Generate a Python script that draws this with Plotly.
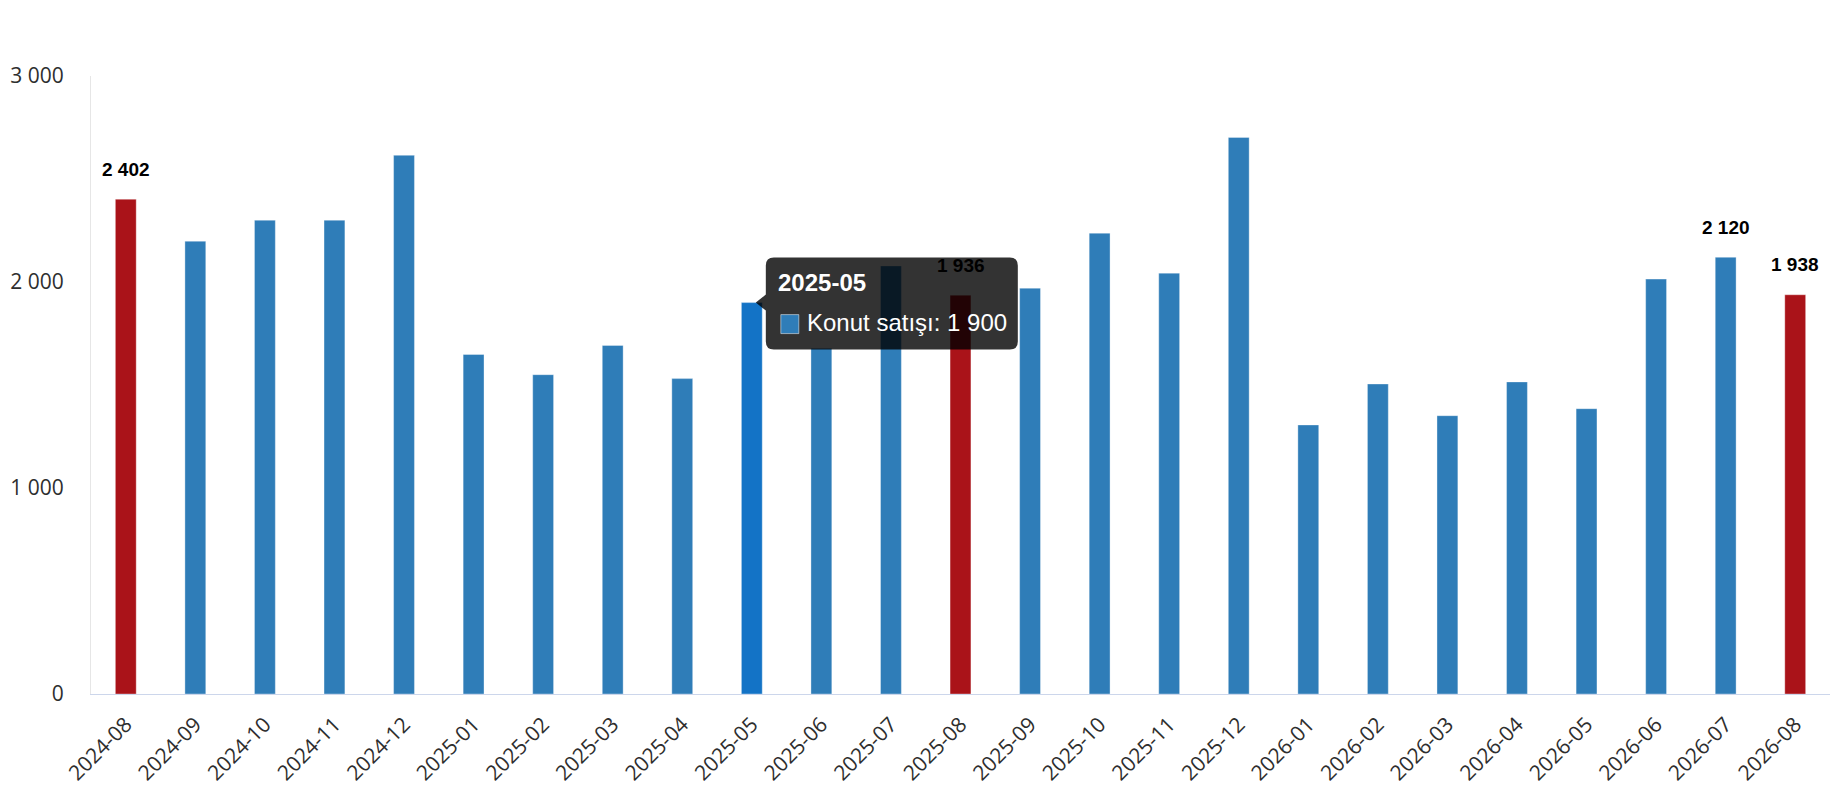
import plotly.graph_objects as go

months = ["2024-08", "2024-09", "2024-10", "2024-11", "2024-12",
          "2025-01", "2025-02", "2025-03", "2025-04", "2025-05", "2025-06", "2025-07", "2025-08",
          "2025-09", "2025-10", "2025-11", "2025-12",
          "2026-01", "2026-02", "2026-03", "2026-04", "2026-05", "2026-06", "2026-07", "2026-08"]
sales = [2402, 2198, 2300, 2300, 2615,
         1648, 1550, 1692, 1531, 1900, 1678, 2078, 1936,
         1970, 2237, 2043, 2702,
         1306, 1505, 1351, 1515, 1385, 2014, 2120, 1938]
red_months = ["2024-08", "2025-08", "2026-08"]
labelled_months = ["2024-08", "2025-08", "2026-07", "2026-08"]
hover_month = "2025-05"
series_name = "Konut satışı"
y_ticks = [0, 1000, 2000, 3000]

BLUE = "#2f7db8"
RED = "#aa1319"
HOVER = "#1373c6"


def fmt(v):
    return f"{v:,}".replace(",", " ")


colors = []
for m in months:
    if m in red_months:
        colors.append(RED)
    elif m == hover_month:
        colors.append(HOVER)
    else:
        colors.append(BLUE)

fig = go.Figure(go.Bar(
    x=months, y=sales, name=series_name,
    marker=dict(color=colors, line=dict(color="rgba(255,255,255,0.35)", width=1)),
    hoverinfo="skip",
))

annotations = []
for m, v in zip(months, sales):
    if m in labelled_months:
        annotations.append(dict(
            x=m, y=v, xref="x", yref="y", text=f"<b>{fmt(v)}</b>", showarrow=False,
            yshift=30, yanchor="middle", xanchor="center",
            font=dict(family="Liberation Sans, Arial", size=19, color="#000000"),
        ))

# tooltip anchored at hovered bar
hi = months.index(hover_month)
hv = sales[hi]
L, R, T, B, r = 14, 266, 45, -47, 8
path = (f"M {L + r},{T} L {R - r},{T} Q {R},{T} {R},{T - r} L {R},{B + r} "
        f"Q {R},{B} {R - r},{B} L {L + r},{B} Q {L},{B} {L},{B + r} "
        f"L {L},-8 L 4,0 L {L},8 L {L},{T - r} Q {L},{T} {L + r},{T} Z")
shapes = [
    dict(type="path", xref="x", yref="y", xsizemode="pixel", ysizemode="pixel",
         xanchor=hi, yanchor=hv, path=path, fillcolor="rgba(0,0,0,0.8)",
         line=dict(width=0), layer="above"),
    dict(type="rect", xref="x", yref="y", xsizemode="pixel", ysizemode="pixel",
         xanchor=hi, yanchor=hv, x0=29, x1=47, y0=-12, y1=-31,
         fillcolor=BLUE, line=dict(color="rgba(255,255,255,0.5)", width=1), layer="above"),
]
annotations.append(dict(
    x=hi, y=hv, xref="x", yref="y", text=f"<b>{hover_month}</b>", showarrow=False,
    xshift=24, yshift=20, xanchor="left", yanchor="middle",
    font=dict(family="Liberation Sans, Arial", size=24, color="#ffffff"),
))
annotations.append(dict(
    x=hi, y=hv, xref="x", yref="y", text=f"{series_name}: {fmt(hv)}", showarrow=False,
    xshift=53, yshift=-20, xanchor="left", yanchor="middle",
    font=dict(family="Liberation Sans, Arial", size=24, color="#ffffff"),
))

fig.update_layout(
    width=1830, height=800,
    margin=dict(l=91, r=0, t=76, b=106, pad=0),
    paper_bgcolor="#ffffff", plot_bgcolor="#ffffff",
    separators=". ",
    bargap=0.7,
    showlegend=False,
    annotations=annotations,
    shapes=shapes,
    font=dict(family="Open Sans", size=21, color="#333333"),
)
fig.update_xaxes(
    type="category", showline=True, linecolor="#ccd6eb", linewidth=1,
    showgrid=False, tickangle=-45, ticks="outside", ticklen=9,
    tickcolor="rgba(0,0,0,0)", tickfont=dict(family="Open Sans", size=21, color="#2e2e2e"),
)
fig.update_yaxes(
    range=[0, 3000], tickvals=y_ticks, tickformat=",d",
    showline=True, linecolor="#e6e6e6", linewidth=1, showgrid=False, zeroline=False,
    ticks="outside", ticklen=22, tickcolor="rgba(0,0,0,0)",
    tickfont=dict(family="Open Sans", size=21, color="#2e2e2e"),
)

fig.write_html("out.html", config={"displayModeBar": False},
               post_script="document.body.style.margin='0';")
